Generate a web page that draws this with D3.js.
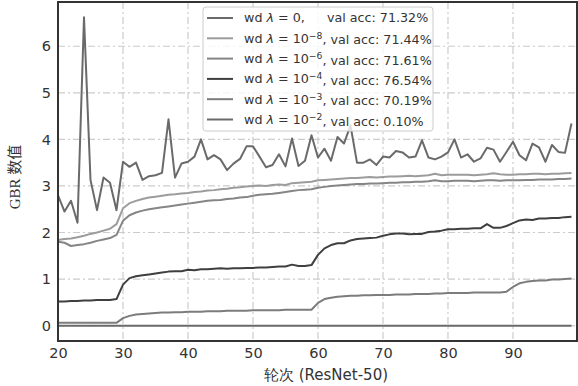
<!DOCTYPE html>
<html lang="zh">
<head>
<meta charset="UTF-8">
<title>GBR</title>
<script src="https://cdn.jsdelivr.net/npm/d3@7"></script>
<style>
  body { margin: 0; background: #fff; }
  text { font-family: "DejaVu Sans", sans-serif; fill: #333; }
</style>
</head>
<body>
<script>
var width = 578, height = 386;
var margin = {top: 2, right: 1, bottom: 45, left: 58};
var w = width - margin.left - margin.right;
var h = height - margin.top - margin.bottom;

// epochs 20..99
var epochs = d3.range(20, 100);
var xTicks = [20, 30, 40, 50, 60, 70, 80, 90];
var yTicks = [0, 1, 2, 3, 4, 5, 6];

// GBR values per run
var wd0 = [2.80,2.45,2.68,2.21,6.62,3.13,2.48,3.18,3.07,2.48,
           3.52,3.41,3.50,3.13,3.21,3.23,3.28,4.43,3.18,3.48,
           3.52,3.63,4.00,3.57,3.66,3.57,3.34,3.48,3.58,3.85,
           3.85,3.63,3.40,3.45,3.68,3.42,4.02,3.43,3.54,4.09,
           3.61,3.80,3.54,4.05,3.91,4.30,3.50,3.50,3.57,3.45,
           3.63,3.61,3.75,3.72,3.61,3.63,3.98,3.61,3.57,3.63,
           3.72,4.00,3.61,3.68,3.52,3.59,3.82,3.78,3.52,3.73,
           3.95,3.66,3.55,3.91,3.83,3.52,3.88,3.73,3.71,4.34];
var wd1e8 = [1.84,1.86,1.87,1.90,1.93,1.97,2.00,2.04,2.08,2.18,
             2.52,2.63,2.68,2.72,2.75,2.77,2.79,2.81,2.82,2.84,
             2.85,2.87,2.88,2.90,2.91,2.93,2.94,2.96,2.97,2.99,
             3.00,3.01,3.00,3.02,3.03,3.02,3.06,3.07,3.08,3.09,
             3.12,3.13,3.14,3.15,3.16,3.17,3.17,3.18,3.19,3.18,
             3.19,3.20,3.20,3.21,3.22,3.21,3.22,3.23,3.26,3.23,
             3.24,3.24,3.24,3.24,3.23,3.24,3.25,3.27,3.25,3.24,
             3.24,3.25,3.25,3.26,3.26,3.25,3.26,3.26,3.27,3.28];
var wd1e6 = [1.80,1.78,1.71,1.73,1.75,1.78,1.82,1.85,1.88,1.95,
             2.25,2.37,2.43,2.47,2.50,2.52,2.54,2.56,2.58,2.60,
             2.62,2.64,2.66,2.68,2.69,2.70,2.72,2.73,2.75,2.76,
             2.79,2.81,2.82,2.83,2.85,2.87,2.89,2.91,2.92,2.93,
             2.96,2.98,3.00,3.01,3.02,3.03,3.04,3.04,3.05,3.05,
             3.06,3.07,3.07,3.08,3.08,3.09,3.09,3.10,3.12,3.10,
             3.10,3.11,3.11,3.11,3.10,3.11,3.12,3.12,3.11,3.12,
             3.12,3.12,3.13,3.13,3.14,3.14,3.14,3.15,3.15,3.16];
var wd1e4 = [0.52,0.52,0.53,0.53,0.54,0.54,0.55,0.55,0.55,0.57,
             0.88,1.02,1.06,1.08,1.10,1.12,1.14,1.16,1.17,1.17,
             1.20,1.19,1.21,1.21,1.22,1.23,1.22,1.23,1.23,1.24,
             1.24,1.25,1.25,1.26,1.27,1.27,1.31,1.28,1.28,1.30,
             1.52,1.66,1.73,1.77,1.77,1.83,1.86,1.87,1.88,1.89,
             1.93,1.96,1.98,1.98,1.96,1.97,1.97,2.01,2.02,2.04,
             2.07,2.07,2.08,2.08,2.09,2.09,2.18,2.10,2.10,2.14,
             2.20,2.26,2.28,2.27,2.30,2.30,2.31,2.31,2.33,2.34];
var wd1e3 = [0.06,0.06,0.06,0.06,0.06,0.06,0.06,0.06,0.06,0.06,
             0.16,0.21,0.24,0.25,0.26,0.27,0.28,0.28,0.29,0.29,
             0.30,0.30,0.30,0.31,0.31,0.31,0.32,0.32,0.32,0.32,
             0.33,0.33,0.33,0.33,0.33,0.34,0.34,0.34,0.34,0.34,
             0.49,0.57,0.60,0.62,0.63,0.64,0.64,0.65,0.65,0.66,
             0.66,0.66,0.67,0.67,0.67,0.68,0.68,0.68,0.69,0.69,
             0.70,0.70,0.70,0.70,0.71,0.71,0.71,0.71,0.71,0.73,
             0.83,0.91,0.94,0.96,0.97,0.97,0.99,0.99,1.00,1.01];
var wd1e2 = [0,0,0,0,0,0,0,0,0,0, 0,0,0,0,0,0,0,0,0,0,
             0,0,0,0,0,0,0,0,0,0, 0,0,0,0,0,0,0,0,0,0,
             0,0,0,0,0,0,0,0,0,0, 0,0,0,0,0,0,0,0,0,0,
             0,0,0,0,0,0,0,0,0,0, 0,0,0,0,0,0,0,0,0,0];

var exps = ["0", "-8", "-6", "-4", "-3", "-2"];
var accs = ["71.32%", "71.44%", "71.61%", "76.54%", "70.19%", "0.10%"];
var series = [wd0, wd1e8, wd1e6, wd1e4, wd1e3, wd1e2];
var colors = ["#6a6a6a", "#9c9c9c", "#858585", "#3f3f3f", "#7c7c7c", "#6a6a6a"];

var svg = d3.select("body").append("svg").attr("width", width).attr("height", height);
var g = svg.append("g").attr("transform", "translate(" + margin.left + "," + margin.top + ")");

var x = d3.scaleLinear().domain([20, 99.85]).range([0, w]);
var y = d3.scaleLinear().domain([-0.33, 6.95]).range([h, 0]);

// grid
g.selectAll(".gx").data(xTicks.slice(1)).enter().append("line")
  .attr("x1", d => x(d)).attr("x2", d => x(d)).attr("y1", 0).attr("y2", h)
  .attr("stroke", "#cccccc").attr("stroke-width", 1.2).attr("stroke-dasharray", "7,3,2,3");
g.selectAll(".gy").data(yTicks).enter().append("line")
  .attr("x1", 0).attr("x2", w).attr("y1", d => y(d)).attr("y2", d => y(d))
  .attr("stroke", "#cccccc").attr("stroke-width", 1.2).attr("stroke-dasharray", "7,3,2,3");

// lines
var line = d3.line().x((d, i) => x(epochs[i])).y(d => y(d));
series.forEach(function(s, k) {
  g.append("path").datum(s).attr("d", line)
    .attr("fill", "none").attr("stroke", colors[k]).attr("stroke-width", 2)
    .attr("stroke-linejoin", "round");
});

// axes
var xAxis = d3.axisBottom(x).tickValues(xTicks).tickSize(0).tickPadding(5);
var yAxis = d3.axisLeft(y).tickValues(yTicks).tickSize(0).tickPadding(7);
var gx = g.append("g").attr("transform", "translate(0," + h + ")").call(xAxis);
var gy = g.append("g").call(yAxis);
[gx, gy].forEach(function(a) {
  a.select(".domain").remove();
  a.selectAll("text").attr("font-size", 14.5).attr("fill", "#333")
    .attr("font-family", "DejaVu Sans");
});
gx.selectAll("text").attr("dy", "0.85em");

// frame
g.append("rect").attr("x", 0).attr("y", 0).attr("width", w).attr("height", h)
  .attr("fill", "none").attr("stroke", "#333").attr("stroke-width", 2);

// axis labels
svg.append("text").attr("x", 326).attr("y", 380)
  .attr("text-anchor", "middle").attr("font-size", 15)
  .attr("font-family", "'Noto Sans CJK SC', 'DejaVu Sans'")
  .text("轮次 (ResNet-50)");
var yl = svg.append("text").attr("transform", "translate(20," + 177 + ") rotate(-90)")
  .attr("text-anchor", "middle").attr("font-size", 15);
yl.append("tspan").attr("font-family", "'Liberation Serif', serif").text("GBR ");
yl.append("tspan").attr("font-family", "'Noto Sans CJK SC'").text("数值");

// legend
var lg = svg.append("g").attr("transform", "translate(203,7)");
lg.append("rect").attr("width", 230).attr("height", 124).attr("rx", 3)
  .attr("fill", "#fff").attr("fill-opacity", 0.8).attr("stroke", "#cccccc");
exps.forEach(function(e, k) {
  var yy = 11 + k * 20.3;
  lg.append("line").attr("x1", 4).attr("x2", 30).attr("y1", yy).attr("y2", yy)
    .attr("stroke", colors[k]).attr("stroke-width", 2);
  var t = lg.append("text").attr("x", 41).attr("y", yy).attr("dy", "0.35em")
    .attr("font-size", 12.7);
  t.append("tspan").text("wd ");
  t.append("tspan").attr("font-style", "italic").text("λ");
  if (e === "0") {
    t.append("tspan").text(" = 0,");
    t.append("tspan").attr("x", 124).text("val acc: " + accs[k]);
  } else {
    t.append("tspan").text(" = 10");
    t.append("tspan").attr("dy", "-0.45em").attr("font-size", 9.2).text(e.replace("-", "\u2212"));
    t.append("tspan").attr("dy", "0.45em").text(", val acc: " + accs[k]);
  }
});
</script>
</body>
</html>
